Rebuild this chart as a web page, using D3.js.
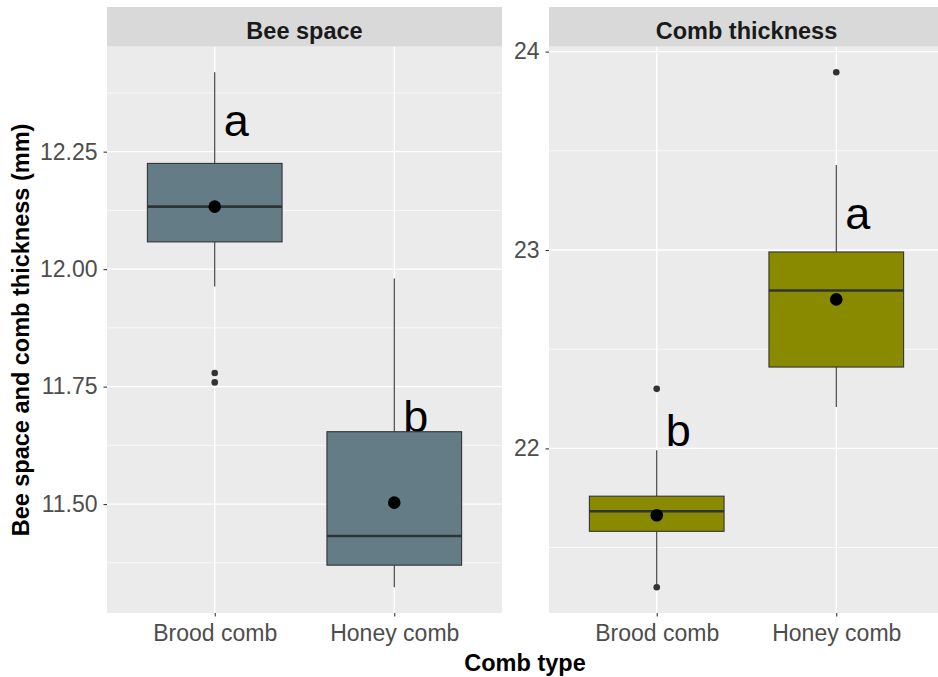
<!DOCTYPE html>
<html>
<head>
<meta charset="utf-8">
<script src="https://cdn.jsdelivr.net/npm/d3@7"></script>
<style>
  html, body { margin: 0; padding: 0; background: #fff; }
  svg { display: block; font-family: "Liberation Sans", Arial, sans-serif; }
</style>
</head>
<body>
<svg id="chart" width="938" height="677"></svg>
<script>
// ---------- data ----------
const categories = ["Brood comb", "Honey comb"];
const panelTitles = ["Bee space", "Comb thickness"];

// Bee space box statistics (per category)
const beeWhiskerLow  = [11.963, 11.323];
const beeQ1          = [12.058, 11.370];
const beeMedian      = [12.133, 11.432];
const beeQ3          = [12.225, 11.654];
const beeWhiskerHigh = [12.419, 11.980];
const beeMean        = [12.133, 11.503];
const beeOutliers    = [[11.779, 11.759], []];
const beeLetters     = ["a", "b"];
const beeLetterY     = [12.284, 11.653];
const beeTicks       = [11.50, 11.75, 12.00, 12.25];
const beeMinor       = [11.375, 11.625, 11.875, 12.125, 12.375];

// Comb thickness box statistics (per category)
const combWhiskerLow  = [21.30, 22.209];
const combQ1          = [21.582, 22.41];
const combMedian      = [21.683, 22.796];
const combQ3          = [21.759, 22.99];
const combWhiskerHigh = [21.99, 23.429];
const combMean        = [21.663, 22.751];
const combOutliers    = [[22.30, 21.30], [23.896]];
const combLetters     = ["b", "a"];
const combLetterY     = [22.012, 23.105];
const combTicks       = [22, 23, 24];
const combMinor       = [21.5, 22.5, 23.5];

const letterNudge = 0.12;   // horizontal nudge of letters in category units

// ---------- build ----------
function buildPanel(lo, q1, med, q3, hi, mean, outl, letters, letterY) {
  return categories.map((c, i) => ({
    cat: c, idx: i + 1, lo: lo[i], q1: q1[i], med: med[i], q3: q3[i], hi: hi[i],
    mean: mean[i], out: outl[i], letter: letters[i], letterY: letterY[i]
  }));
}
const panels = [
  { title: panelTitles[0], fill: "#647C86", rows: buildPanel(beeWhiskerLow, beeQ1, beeMedian, beeQ3, beeWhiskerHigh, beeMean, beeOutliers, beeLetters, beeLetterY), ticks: beeTicks, minor: beeMinor, fmt: d3.format(".2f"), x0: 107, x1: 502 },
  { title: panelTitles[1], fill: "#8A8A00", rows: buildPanel(combWhiskerLow, combQ1, combMedian, combQ3, combWhiskerHigh, combMean, combOutliers, combLetters, combLetterY), ticks: combTicks, minor: combMinor, fmt: d3.format("d"), x0: 549, x1: 944 }
];

const svg = d3.select("#chart");
const stripTop = 7, stripBottom = 46.5, panelBottom = 613;

panels.forEach(p => {
  // y domain from data with 5% expansion (ggplot style)
  const vals = [];
  p.rows.forEach(r => { vals.push(r.lo, r.hi, ...r.out); });
  const mn = d3.min(vals), mx = d3.max(vals), pad = (mx - mn) * 0.05;
  const y = d3.scaleLinear().domain([mn - pad, mx + pad]).range([panelBottom, stripBottom]);
  const x = d3.scaleLinear().domain([0.4, 2.6]).range([p.x0, p.x1]);
  const bw = 0.75 / 2;

  const g = svg.append("g");
  // panel background
  g.append("rect").attr("x", p.x0).attr("y", stripBottom).attr("width", p.x1 - p.x0)
    .attr("height", panelBottom - stripBottom).attr("fill", "#EBEBEB");
  // minor grid
  g.selectAll(".minor").data(p.minor).join("line")
    .attr("x1", p.x0).attr("x2", p.x1).attr("y1", d => y(d)).attr("y2", d => y(d))
    .attr("stroke", "#fff").attr("stroke-width", 0.7);
  // major grid
  g.selectAll(".major").data(p.ticks).join("line")
    .attr("x1", p.x0).attr("x2", p.x1).attr("y1", d => y(d)).attr("y2", d => y(d))
    .attr("stroke", "#fff").attr("stroke-width", 1.4);
  g.selectAll(".vgrid").data(p.rows).join("line")
    .attr("x1", d => x(d.idx)).attr("x2", d => x(d.idx)).attr("y1", stripBottom).attr("y2", panelBottom)
    .attr("stroke", "#fff").attr("stroke-width", 1.4);

  // strip
  svg.append("rect").attr("x", p.x0).attr("y", stripTop).attr("width", p.x1 - p.x0)
    .attr("height", stripBottom - stripTop).attr("fill", "#D9D9D9");
  svg.append("text").attr("x", (p.x0 + p.x1) / 2).attr("y", 39)
    .attr("text-anchor", "middle").attr("font-weight", "bold").attr("font-size", 23.5)
    .attr("fill", "#1A1A1A").text(p.title);

  // letters (drawn under boxes)
  g.selectAll(".letter").data(p.rows).join("text")
    .attr("x", d => x(d.idx + letterNudge)).attr("y", d => y(d.letterY))
    .attr("text-anchor", "middle").attr("font-size", 45).attr("fill", "#000")
    .text(d => d.letter);

  // whiskers
  g.selectAll(".wu").data(p.rows).join("line")
    .attr("x1", d => x(d.idx)).attr("x2", d => x(d.idx)).attr("y1", d => y(d.q3)).attr("y2", d => y(d.hi))
    .attr("stroke", "#333").attr("stroke-width", 1.1);
  g.selectAll(".wl").data(p.rows).join("line")
    .attr("x1", d => x(d.idx)).attr("x2", d => x(d.idx)).attr("y1", d => y(d.q1)).attr("y2", d => y(d.lo))
    .attr("stroke", "#333").attr("stroke-width", 1.1);
  // boxes
  g.selectAll(".box").data(p.rows).join("rect")
    .attr("x", d => x(d.idx - bw)).attr("width", d => x(d.idx + bw) - x(d.idx - bw))
    .attr("y", d => y(d.q3)).attr("height", d => y(d.q1) - y(d.q3))
    .attr("fill", p.fill).attr("stroke", "#333").attr("stroke-width", 1.1);
  // medians
  g.selectAll(".med").data(p.rows).join("line")
    .attr("x1", d => x(d.idx - bw)).attr("x2", d => x(d.idx + bw)).attr("y1", d => y(d.med)).attr("y2", d => y(d.med))
    .attr("stroke", "#2B3538").attr("stroke-width", 2.6);
  // outliers
  const outs = [];
  p.rows.forEach(r => r.out.forEach(v => outs.push({ idx: r.idx, v })));
  g.selectAll(".out").data(outs).join("circle")
    .attr("cx", d => x(d.idx)).attr("cy", d => y(d.v)).attr("r", 3.3).attr("fill", "#333");
  // means
  g.selectAll(".mean").data(p.rows).join("circle")
    .attr("cx", d => x(d.idx)).attr("cy", d => y(d.mean)).attr("r", 6.3).attr("fill", "#000");

  // y axis
  const ya = svg.append("g").attr("transform", `translate(${p.x0},0)`)
    .call(d3.axisLeft(y).tickValues(p.ticks).tickFormat(p.fmt).tickSize(3.5).tickPadding(6));
  ya.select(".domain").remove();
  ya.selectAll("line").attr("stroke", "#333").attr("stroke-width", 1.1);
  ya.selectAll("text").attr("font-size", 23).attr("fill", "#4D4D4D").attr("font-family", "Liberation Sans, Arial, sans-serif");

  // x axis
  const xa = svg.append("g").attr("transform", `translate(0,${panelBottom})`)
    .call(d3.axisBottom(x).tickValues(p.rows.map(r => r.idx)).tickFormat(i => categories[i - 1]).tickSize(3.5).tickPadding(8));
  xa.select(".domain").remove();
  xa.selectAll("line").attr("stroke", "#333").attr("stroke-width", 1.1);
  xa.selectAll("text").attr("font-size", 23).attr("fill", "#4D4D4D").attr("font-family", "Liberation Sans, Arial, sans-serif");
});

// axis titles
svg.append("text").attr("x", 525).attr("y", 671).attr("text-anchor", "middle")
  .attr("font-weight", "bold").attr("font-size", 23.5).attr("fill", "#000").text("Comb type");
svg.append("text").attr("transform", "translate(28.5,330) rotate(-90)").attr("text-anchor", "middle")
  .attr("font-weight", "bold").attr("font-size", 23.5).attr("fill", "#000").text("Bee space and comb thickness (mm)");
</script>
</body>
</html>
